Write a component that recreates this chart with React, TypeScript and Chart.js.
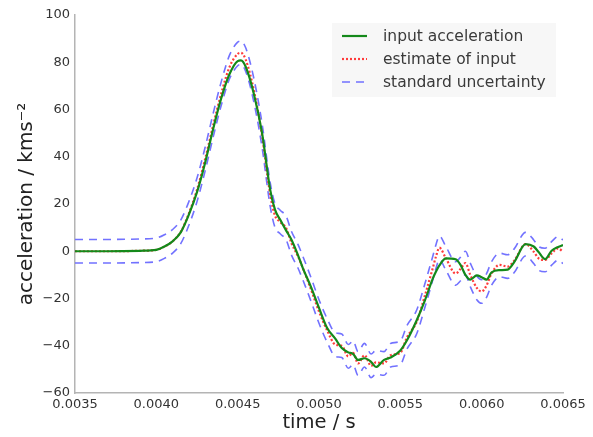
import React, { useEffect, useRef } from "react";
import { Chart, registerables } from "chart.js";

Chart.register(...registerables);

// time / s
const TIME = [
  0.0035, 0.0037, 0.0039, 0.004, 0.00405, 0.0041, 0.00415, 0.0042, 0.00425, 0.0043,
  0.00435, 0.0044, 0.00445, 0.0045, 0.00452, 0.00455, 0.0046, 0.00465, 0.0047, 0.00473,
  0.00476, 0.0048, 0.00483, 0.00487, 0.0049, 0.00495, 0.005, 0.00505, 0.0051, 0.00514,
  0.00518, 0.00521, 0.00524, 0.00528, 0.00532, 0.00535, 0.0054, 0.00544, 0.0055, 0.00554,
  0.0056, 0.00565, 0.0057, 0.00572, 0.00574, 0.00578, 0.00584, 0.00587, 0.0059, 0.00593,
  0.00597, 0.006, 0.00603, 0.00606, 0.00611, 0.00616, 0.0062, 0.00627, 0.00632, 0.00635,
  0.00639, 0.00643, 0.00647, 0.0065,
];

// input acceleration / km s^-2
const INPUT_ACCEL = [
  0, 0, 0.2, 0.6, 2, 4.2, 8, 15.5, 25, 37.5,
  52, 65, 75, 80.5, 80.8, 78, 66.5, 50, 26, 17.5,
  13.5, 8.5, 5, -1.5, -7, -15, -24, -32.5, -37, -41,
  -42.8, -43.5, -46, -45.3, -46.8, -49, -46, -45, -42, -37.8,
  -29.3, -21, -11.5, -8.5, -6, -3, -3.4, -5.8, -10, -12,
  -10.2, -11, -12, -9, -8, -7.8, -4.6, 3, 2, -0.3,
  -3.3, 0.2, 1.8, 2.6,
];

// estimate of input
const ESTIMATE = [
  0, 0, 0.2, 0.6, 2, 4.2, 8.2, 16, 26, 39,
  53.5, 67, 78, 83.5, 84, 81, 68, 49, 24, 15,
  12.5, 9.5, 3.5, -2, -7, -16, -25.5, -33.5, -39.5, -40,
  -44.5, -43, -47.5, -44, -48.5, -47, -47.5, -44, -43, -36.5,
  -30, -19, -7, -2, 1.5, -3, -9.4, -7.5, -5, -10,
  -15.5, -17, -14.5, -9.5, -5.8, -6.5, -4, 3, -0.2, -3,
  -3.7, -0.9, 1.2, -0.2,
];

// standard uncertainty (half-width of band)
const UNCERTAINTY = [
  5, 5, 5, 5, 5, 5, 5, 5, 5, 5,
  5, 5, 5, 5, 5, 5, 5, 5, 5, 5,
  5, 5, 5, 5, 5, 5, 5, 5, 5, 5,
  5, 5, 5, 5, 5, 5, 5, 5, 5, 5,
  5, 5, 5, 5, 5, 5, 5, 5, 5, 5,
  5, 5, 5, 5, 5, 5, 5, 5, 5, 5,
  5, 5, 5, 5,
];

const X_TICKS = [0.0035, 0.004, 0.0045, 0.005, 0.0055, 0.006, 0.0065];
const Y_TICKS = [-60, -40, -20, 0, 20, 40, 60, 80, 100];

const LABELS = ["input acceleration", "estimate of input", "standard uncertainty"];

const GREEN = "#14891a";
const RED = "#ff3b3b";
const BLUE = "#7272ff";
const FONT = "'DejaVu Sans', sans-serif";

const legendPlugin = {
  id: "boxLegend",
  afterDatasetsDraw(chart: any) {
    const { ctx, chartArea } = chart;
    const bx = chartArea.right - 231;
    const by = chartArea.top + 8;
    const bw = 224;
    const bh = 74;
    ctx.save();
    ctx.fillStyle = "rgba(247,247,247,0.95)";
    ctx.fillRect(bx, by, bw, bh);
    const styles = [
      { color: GREEN, dash: [], width: 2.2 },
      { color: RED, dash: [2, 2], width: 2.2 },
      { color: BLUE, dash: [8, 6], width: 1.6 },
    ];
    ctx.font = `15.5px ${FONT}`;
    ctx.textBaseline = "middle";
    LABELS.forEach((label, i) => {
      const y = by + 13 + i * 23;
      const s = styles[i];
      ctx.beginPath();
      ctx.setLineDash(s.dash);
      ctx.strokeStyle = s.color;
      ctx.lineWidth = s.width;
      ctx.moveTo(bx + 10, y);
      ctx.lineTo(bx + 35, y);
      ctx.stroke();
      ctx.setLineDash([]);
      ctx.fillStyle = "#3a3a3a";
      ctx.fillText(label, bx + 51, y + 1);
    });
    ctx.restore();
  },
};

export default function App() {
  const ref = useRef<HTMLCanvasElement | null>(null);

  useEffect(() => {
    document.body.style.margin = "0";
    const canvas = ref.current;
    if (!canvas) return;

    const pts = (vals: number[]) => TIME.map((t, i) => ({ x: t, y: vals[i] }));
    const upper = ESTIMATE.map((v, i) => v + UNCERTAINTY[i]);
    const lower = ESTIMATE.map((v, i) => v - UNCERTAINTY[i]);

    const common = {
      pointRadius: 0,
      fill: false,
      cubicInterpolationMode: "monotone" as const,
    };

    const chart = new Chart(canvas, {
      type: "line",
      data: {
        datasets: [
          { ...common, label: LABELS[0], data: pts(INPUT_ACCEL), borderColor: GREEN, borderWidth: 2.2 },
          { ...common, label: LABELS[1], data: pts(ESTIMATE), borderColor: RED, borderWidth: 2.2, borderDash: [2, 2] },
          { ...common, label: LABELS[2], data: pts(upper), borderColor: BLUE, borderWidth: 1.6, borderDash: [8, 6] },
          { ...common, label: LABELS[2] + " (lower)", data: pts(lower), borderColor: BLUE, borderWidth: 1.6, borderDash: [8, 6] },
        ],
      },
      options: {
        responsive: false,
        animation: false,
        devicePixelRatio: 1,
        layout: { padding: { top: 15, right: 30, left: 0, bottom: 0 } },
        plugins: { legend: { display: false }, tooltip: { enabled: false } },
        scales: {
          x: {
            type: "linear",
            min: 0.0035,
            max: 0.0065,
            grid: { display: false, drawTicks: false },
            border: { display: true, color: "#b4b4b4", width: 1.5 },
            afterBuildTicks: (scale: any) => {
              scale.ticks = X_TICKS.map((v) => ({ value: v }));
            },
            afterFit: (scale: any) => {
              scale.height = 44;
            },
            ticks: {
              maxRotation: 0,
              autoSkip: false,
              padding: 4,
              color: "#333333",
              font: { family: FONT, size: 13 },
              callback: (v: any) => Number(v).toFixed(4),
            },
            title: {
              display: true,
              text: "time / s",
              color: "#222222",
              font: { family: FONT, size: 19.5 },
              padding: { top: 0, bottom: 2 },
            },
          },
          y: {
            type: "linear",
            min: -60,
            max: 100,
            grid: { display: false, drawTicks: false },
            border: { display: true, color: "#b4b4b4", width: 1.5 },
            afterBuildTicks: (scale: any) => {
              scale.ticks = Y_TICKS.map((v) => ({ value: v }));
            },
            afterFit: (scale: any) => {
              scale.width = 75;
            },
            ticks: {
              padding: 5,
              color: "#333333",
              font: { family: FONT, size: 13 },
              callback: (v: any) => (Number(v) < 0 ? "\u2212" + Math.abs(Number(v)) : String(v)),
            },
            title: {
              display: true,
              text: "acceleration / kms\u207B\u00B2",
              color: "#222222",
              font: { family: FONT, size: 20 },
              padding: { top: 15, bottom: 0 },
            },
          },
        },
      },
      plugins: [legendPlugin],
    });

    return () => chart.destroy();
  }, []);

  return (
    <div style={{ width: 593, height: 437 }}>
      <canvas ref={ref} width={593} height={437} style={{ display: "block" }} />
    </div>
  );
}
